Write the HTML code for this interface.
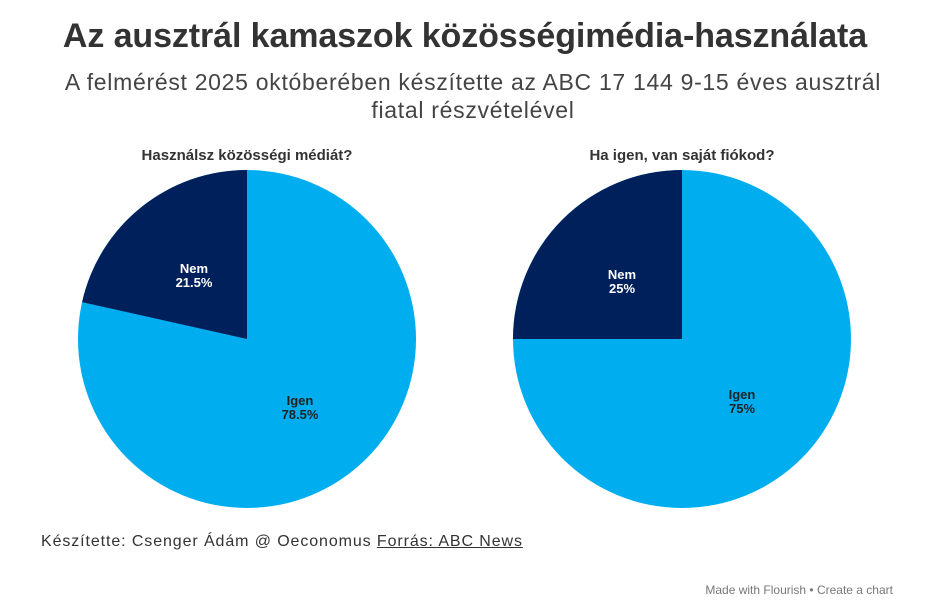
<!DOCTYPE html>
<html><head><meta charset="utf-8"><style>
body{margin:0;width:946px;height:607px;background:#fff;font-family:"Liberation Sans",sans-serif;overflow:hidden;position:relative}
.t{position:absolute;left:0;width:946px;text-align:center}
</style></head><body>
<div class="t" style="top:17px;font-size:34px;font-weight:bold;color:#333;letter-spacing:-0.1px;padding-left:-8px"><span style="position:relative;left:-8px">Az ausztrál kamaszok közösségimédia-használata</span></div>
<div class="t" style="top:68px;font-size:23px;color:#444;line-height:28px;letter-spacing:0.7px">A felmérést 2025 októberében készítette az ABC 17 144 9-15 éves ausztrál<br>fiatal részvételével</div>
<svg width="946" height="607" style="position:absolute;left:0;top:0">
<text x="247" y="160" text-anchor="middle" font-size="15" font-weight="bold" fill="#333" font-family="Liberation Sans">Használsz közösségi médiát?</text>
<text x="682" y="160" text-anchor="middle" font-size="15" font-weight="bold" fill="#333" font-family="Liberation Sans">Ha igen, van saját fiókod?</text>
<circle cx="247" cy="339" r="169" fill="#00aeef"/>
<path d="M247 339 L247 170 A169 169 0 0 0 82.1 302.1 Z" fill="#00205b"/>
<circle cx="682" cy="339" r="169" fill="#00aeef"/>
<path d="M682 339 L682 170 A169 169 0 0 0 513 339 Z" fill="#00205b"/>
<g font-family="Liberation Sans" font-weight="bold" font-size="13" text-anchor="middle">
<text x="194" y="273" fill="#fff">Nem</text><text x="194" y="287" fill="#fff">21.5%</text>
<text x="300" y="405" fill="#222">Igen</text><text x="300" y="419" fill="#222">78.5%</text>
<text x="622" y="279" fill="#fff">Nem</text><text x="622" y="293" fill="#fff">25%</text>
<text x="742" y="399" fill="#222">Igen</text><text x="742" y="413" fill="#222">75%</text>
</g>
</svg>
<div style="position:absolute;left:41px;top:533px;font-size:16px;color:#333;letter-spacing:0.9px">Készítette: Csenger Ádám @ Oeconomus <span style="text-decoration:underline">Forrás: ABC News</span></div>
<div style="position:absolute;right:53px;top:583px;font-size:12px;color:#777">Made with Flourish • Create a chart</div>
</body></html>
